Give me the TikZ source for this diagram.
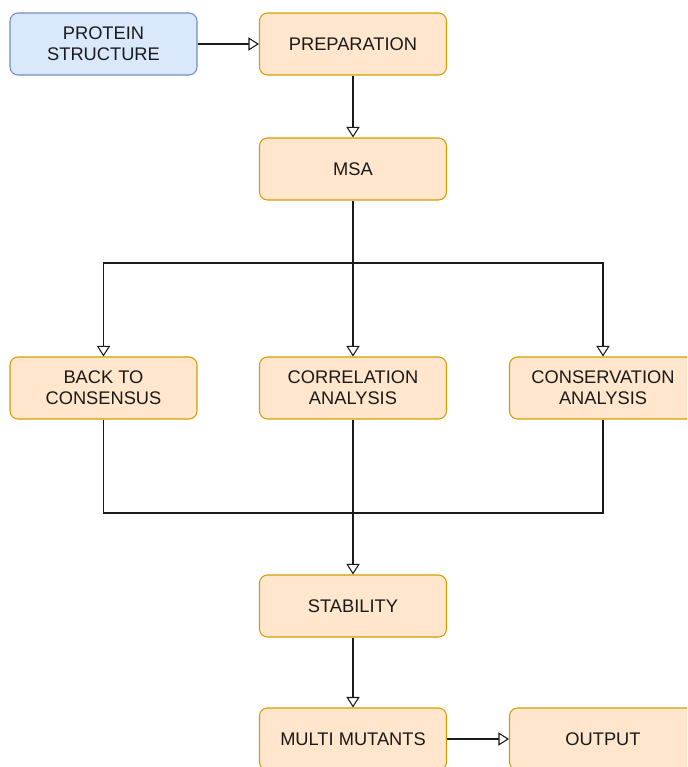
\documentclass[tikz,border=0pt]{standalone}
\usepackage{fontspec}
\setmainfont{Liberation Sans}
\usetikzlibrary{arrows.meta,positioning}
\definecolor{stepfill}{HTML}{FFE6CC}
\definecolor{stepdraw}{HTML}{D79B00}
\definecolor{infill}{HTML}{DAE8FC}
\definecolor{indraw}{HTML}{6C8EBF}
\definecolor{txt}{HTML}{1A1A1A}

\begin{document}
\begin{tikzpicture}[
    x=0.02cm, y=-0.02cm,
    stepbox/.style={rectangle, rounded corners=0.16cm, draw=stepdraw, fill=stepfill, line width=0.6pt,
        minimum width=3.74cm, minimum height=1.24cm, align=center, font=\fontsize{10.4}{12}\selectfont, text=txt},
    inbox/.style={stepbox, draw=indraw, fill=infill},
    flow/.style={draw=txt, line width=0.6pt, -{Triangle[open, length=6pt, width=7.5pt, fill=white]}},
    wire/.style={draw=txt, line width=0.6pt}
]
    \useasboundingbox (0,0) rectangle (687,767);
    \clip (0,0) rectangle (687,767);

    % Input and preparation
    \node[inbox] (protein) at (103.5,44) {PROTEIN\\STRUCTURE};
    \node[stepbox] (prep) at (353,44) {PREPARATION};
    \node[stepbox] (msa) at (353,169) {MSA};

    % Analyses
    \node[stepbox] (back) at (103.5,388) {BACK TO\\CONSENSUS};
    \node[stepbox] (corr) at (353,388) {CORRELATION\\ANALYSIS};
    \node[stepbox] (cons) at (603,388) {CONSERVATION\\ANALYSIS};

    % Results
    \node[stepbox] (stab) at (353,606) {STABILITY};
    \node[stepbox] (multi) at (353,739) {MULTI MUTANTS};
    \node[stepbox] (out) at (603,739) {OUTPUT};

    \coordinate (split) at (353,263);
    \coordinate (merge) at (353,513);

    \draw[flow] (protein) -- (prep);
    \draw[flow] (prep) -- (msa);
    \draw[flow] (msa) -- (corr);
    \draw[flow] (split) -| (back.north);
    \draw[flow] (split) -| (cons.north);

    \draw[wire] (back.south) |- (merge);
    \draw[wire] (cons.south) |- (merge);
    \draw[flow] (corr) -- (stab);
    \draw[flow] (stab) -- (multi);
    \draw[flow] (multi) -- (out);
\end{tikzpicture}
\end{document}
